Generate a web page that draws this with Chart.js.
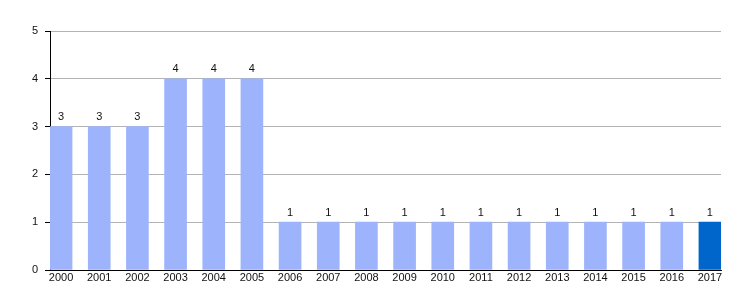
<!DOCTYPE html>
<html>
<head>
<meta charset="utf-8">
<script src="https://cdn.jsdelivr.net/npm/chart.js@4/dist/chart.umd.min.js"></script>
<style>
html,body{margin:0;padding:0;background:#fff;}
canvas{display:block;}
</style>
</head>
<body>
<canvas id="c" width="750" height="300"></canvas>
<script>
const categories = ["2000","2001","2002","2003","2004","2005","2006","2007","2008","2009","2010","2011","2012","2013","2014","2015","2016","2017"];
const values = [3,3,3,4,4,4,1,1,1,1,1,1,1,1,1,1,1,1];
const yTicks = [0,1,2,3,4,5];

const lightBlue = '#9db4fd';
const darkBlue = '#0066cc';
const barColors = values.map((v,i)=> i === values.length-1 ? darkBlue : lightBlue);

const valueLabels = {
  id: 'valueLabels',
  afterDatasetsDraw(chart){
    const ctx = chart.ctx;
    const meta = chart.getDatasetMeta(0);
    ctx.save();
    ctx.font = '11px "Liberation Sans", Arial, sans-serif';
    ctx.fillStyle = '#111';
    ctx.textAlign = 'center';
    ctx.textBaseline = 'bottom';
    meta.data.forEach((el,i)=>{
      ctx.fillText(String(values[i]), el.x, el.y - 4);
    });
    ctx.restore();
  }
};

new Chart(document.getElementById('c'), {
  type: 'bar',
  data: {
    datasets: [{
      data: values.map((v,i)=>({x:i, y:v})),
      backgroundColor: barColors,
      borderWidth: 0,
      barThickness: 22
    }]
  },
  options: {
    responsive: false,
    animation: false,
    devicePixelRatio: 1,
    layout: { padding: { top: 31, right: 29, left: 0, bottom: 0 } },
    plugins: { legend: { display: false }, tooltip: { enabled: false } },
    scales: {
      x: {
        type: 'linear',
        min: -0.29,
        max: categories.length - 1 + 0.29,
        offset: false,
        afterBuildTicks(scale){ scale.ticks = categories.map((c,i)=>({value:i})); },
        afterFit(scale){ scale.height = 30; },
        ticks: {
          autoSkip: false,
          maxRotation: 0,
          padding: 1,
          color: '#111',
          font: { family: '"Liberation Sans", Arial, sans-serif', size: 11 },
          callback: (v) => categories[v]
        },
        grid: { display: false, drawTicks: false },
        border: { display: true, color: '#000', width: 1 }
      },
      y: {
        min: 0,
        max: 5,
        afterBuildTicks(scale){ scale.ticks = yTicks.map(v=>({value:v})); },
        afterFit(scale){ scale.width = 50; },
        ticks: {
          padding: 7,
          color: '#111',
          font: { family: '"Liberation Sans", Arial, sans-serif', size: 11 }
        },
        grid: { color: '#b3b3b3', tickColor: '#000', tickLength: 5, lineWidth: 1 },
        border: { display: true, color: '#000', width: 1 }
      }
    }
  },
  plugins: [valueLabels]
});
</script>
</body>
</html>
